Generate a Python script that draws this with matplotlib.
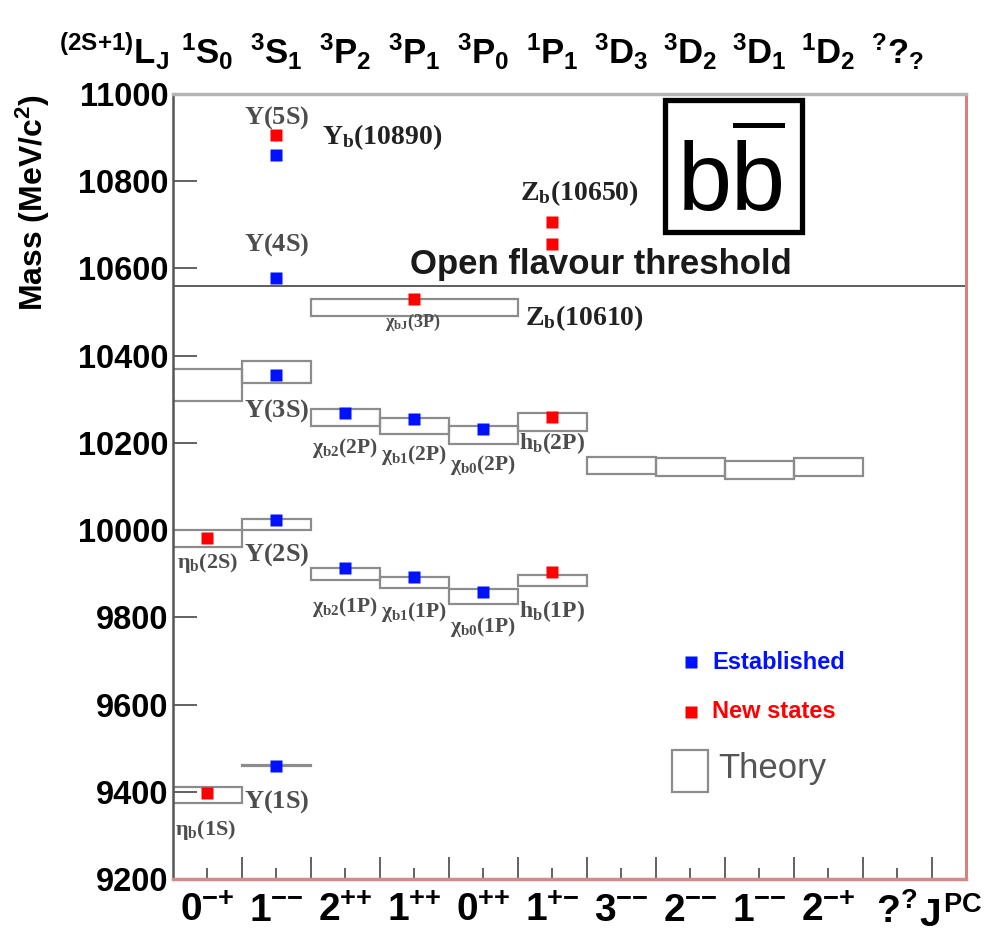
import matplotlib
matplotlib.use('Agg')
import matplotlib.pyplot as plt
import matplotlib.transforms as mtransforms
from matplotlib.patches import Rectangle
from matplotlib.lines import Line2D

plt.rcParams['font.family'] = ['Liberation Sans', 'DejaVu Sans']
plt.rcParams['font.weight'] = 'bold'
plt.rcParams['mathtext.fontset'] = 'custom'
plt.rcParams['mathtext.rm'] = 'Liberation Sans:bold'
plt.rcParams['mathtext.it'] = 'Liberation Sans:bold'
plt.rcParams['mathtext.sf'] = 'Liberation Sans'
plt.rcParams['mathtext.bf'] = 'Liberation Serif:bold'
plt.rcParams['mathtext.tt'] = 'Liberation Serif'

# columns: spectroscopic notation (top) and J^PC (bottom)
top_labels = [r'$^{1}S_{0}$', r'$^{3}S_{1}$', r'$^{3}P_{2}$', r'$^{3}P_{1}$', r'$^{3}P_{0}$',
              r'$^{1}P_{1}$', r'$^{3}D_{3}$', r'$^{3}D_{2}$', r'$^{3}D_{1}$', r'$^{1}D_{2}$',
              r'$^{?}?_{?}$']
jpc_labels = [r'$0^{{-}{+}}$', r'$1^{{-}{-}}$', r'$2^{{+}{+}}$', r'$1^{{+}{+}}$', r'$0^{{+}{+}}$',
              r'$1^{{+}{-}}$', r'$3^{{-}{-}}$', r'$2^{{-}{-}}$', r'$1^{{-}{-}}$', r'$2^{{-}{+}}$',
              r'$?^{?}$']

# established states (blue), column index and mass in MeV
est_col = [1, 1, 1, 1, 1, 2, 3, 4, 2, 3, 4]
est_mass = [9460, 10023, 10355, 10579, 10860, 9912, 9893, 9859, 10269, 10255, 10232]

# new states (red)
new_col = [0, 0, 5, 5, 3, 1, 5, 5]
new_mass = [9398, 9983, 9905, 10260, 10530, 10905, 10707, 10657]

# theory boxes: left column edge, width in columns, low/high mass
th_left = [0, 0, 0, 1, 1, 1, 2, 3, 4, 5, 2, 3, 4, 5, 2, 6, 7, 8, 9]
th_width = [1, 1, 1, 1, 1, 1, 1, 1, 1, 1, 1, 1, 1, 1, 3, 1, 1, 1, 1]
th_lo = [9374, 9962, 10296, 9459, 10000, 10337, 9886, 9868, 9831, 9872,
         10238, 10220, 10197, 10227, 10490, 10128, 10125, 10117, 10125]
th_hi = [9410, 10000, 10369, 9461, 10026, 10387, 9914, 9893, 9866, 9898,
         10277, 10257, 10238, 10268, 10530, 10168, 10166, 10158, 10166]

threshold = 10560

# state names: text, x, mass, font size
names = [
    (r'$\mathtt{\Upsilon(5S)}$', 1.5, 10945, 19),
    (r'$\mathtt{\Upsilon(4S)}$', 1.5, 10654, 19),
    (r'$\mathtt{\Upsilon(3S)}$', 1.5, 10275, 19),
    (r'$\mathtt{\Upsilon(2S)}$', 1.5, 9943, 19),
    (r'$\mathtt{\Upsilon(1S)}$', 1.5, 9377, 19),
    (r'$\mathtt{\eta_b(2S)}$', 0.5, 9925, 16),
    (r'$\mathtt{\eta_b(1S)}$', 0.47, 9312, 16),
    (r'$\mathtt{\chi_{b2}(2P)}$', 2.5, 10188, 15.5),
    (r'$\mathtt{\chi_{b1}(2P)}$', 3.5, 10172, 15.5),
    (r'$\mathtt{\chi_{b0}(2P)}$', 4.5, 10149, 15.5),
    (r'$\mathtt{h_b(2P)}$', 5.5, 10200, 17),
    (r'$\mathtt{\chi_{b2}(1P)}$', 2.5, 9824, 15.5),
    (r'$\mathtt{\chi_{b1}(1P)}$', 3.5, 9812, 15.5),
    (r'$\mathtt{\chi_{b0}(1P)}$', 4.5, 9778, 15.5),
    (r'$\mathtt{h_b(1P)}$', 5.5, 9815, 17),
    (r'$\mathtt{\chi_{bJ}(3P)}$', 3.47, 10477, 13),
]
bold_names = [
    (r'$\mathbf{\Upsilon_b(10890)}$', 2.16, 10901),
    (r'$\mathbf{Z_b(10650)}$', 5.03, 10773),
    (r'$\mathbf{Z_b(10610)}$', 5.1, 10486),
]

fig = plt.figure(figsize=(10.08, 9.43), dpi=100)
ax = fig.add_axes([173 / 1008, 64 / 943, 793 / 1008, 785 / 943])
ax.set_xlim(0, 11.5)
ax.set_ylim(9200, 11000)

ax.bar(th_left, [h - l for h, l in zip(th_hi, th_lo)], width=th_width, bottom=th_lo,
       align='edge', fill=False, edgecolor='#8c8c8c', linewidth=1.6, zorder=2)

ax.axhline(threshold, color='#505050', lw=1.3, zorder=1)

ax.plot([c + 0.5 for c in est_col], est_mass, 's', color='#0011ff', ms=9, mec='none', zorder=4)
ax.plot([c + 0.5 for c in new_col], new_mass, 's', color='#ff0000', ms=9, mec='none', zorder=4)

for txt, x, y, fs in names:
    ax.text(x, y, txt, fontsize=fs, color='#4d4d4d', ha='center', va='center')
for txt, x, y in bold_names:
    ax.text(x, y, txt, fontsize=20, color='#222222', ha='left', va='center')

ax.text(3.44, threshold + 48, 'Open flavour threshold', fontsize=25, color='#1a1a1a',
        ha='left', va='center')

# b bbar box
ax.add_patch(Rectangle((0.620, 0.824), 0.173, 0.168, transform=ax.transAxes, fill=False,
                       edgecolor='black', lw=3.8, zorder=5))
ax.text(0.705, 0.852, 'bb', transform=ax.transAxes, fontsize=70, fontweight='normal',
        ha='center', va='baseline', color='black')
ax.add_line(Line2D([0.709, 0.768], [0.9605, 0.9605], transform=ax.transAxes, color='black', lw=3.6))

# legend
ax.plot([0.653], [0.276], 's', color='#0011ff', ms=9, mec='none', transform=ax.transAxes)
ax.text(0.680, 0.276, 'Established', transform=ax.transAxes, fontsize=17, color='#0011ff',
        ha='left', va='center')
ax.plot([0.653], [0.213], 's', color='#ff0000', ms=9, mec='none', transform=ax.transAxes)
ax.text(0.680, 0.213, 'New states', transform=ax.transAxes, fontsize=17, color='#ff0000',
        ha='left', va='center')
ax.add_patch(Rectangle((0.629, 0.111), 0.046, 0.053, transform=ax.transAxes, fill=False,
                       edgecolor='#8c8c8c', lw=1.6))
ax.text(0.687, 0.141, 'Theory', transform=ax.transAxes, fontsize=25, fontweight='normal',
        color='#555555', ha='left', va='center')

# axes styling
ax.set_yticks(range(9200, 11001, 200))
ax.tick_params(axis='y', direction='in', length=17, width=1.3, color='#555555',
               labelsize=23.5, pad=3)
ax.set_xticks(range(1, 12))
ax.set_xticklabels([])
ax.set_xticks([i + 0.5 for i in range(11)], jpc_labels, minor=True)
ax.tick_params(axis='x', which='major', direction='in', length=16, width=1.3, color='#555555')
ax.tick_params(axis='x', which='minor', direction='in', length=8, width=1.3, color='#555555',
               labelsize=28, pad=10)
for lab in ax.get_yticklabels():
    lab.set_fontweight('bold')

ax.spines['top'].set_color('#b4b4b4')
ax.spines['top'].set_linewidth(2.5)
ax.spines['left'].set_color('#555555')
ax.spines['left'].set_linewidth(1.8)
ax.spines['bottom'].set_color('#d08c8c')
ax.spines['bottom'].set_linewidth(2.5)
ax.spines['right'].set_color('#d88080')
ax.spines['right'].set_linewidth(2.2)

trans = mtransforms.blended_transform_factory(ax.transData, ax.transAxes)
for i, lab in enumerate(top_labels):
    ax.text(i + 0.5, 1.054, lab, transform=trans, fontsize=25, ha='center', va='center')
ax.text(-0.005, 1.054, r'$^{(2S{+}1)}L_{J}$', transform=ax.transAxes, fontsize=25,
        ha='right', va='center')
ax.text(10.82, -0.047, r'$J^{PC}$', transform=trans, fontsize=28, ha='left', va='center')

fig.text(33 / 1008, 1 - 203 / 943, r'Mass (MeV/c$^{2}$)', rotation=90, fontsize=23,
         ha='center', va='center')

fig.savefig('out.png', dpi=100)
